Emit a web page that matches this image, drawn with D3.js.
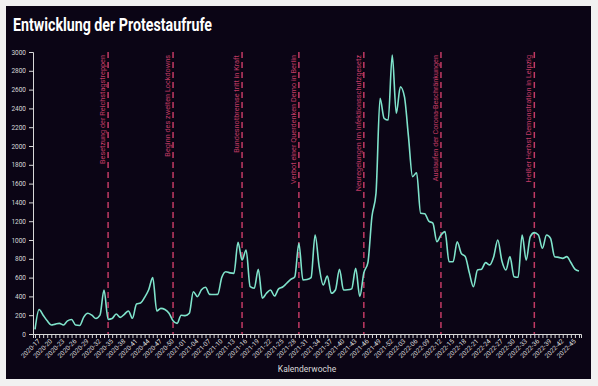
<!DOCTYPE html>
<html>
<head>
<meta charset="utf-8">
<script src="https://cdn.jsdelivr.net/npm/d3@7"></script>
<style>
  html, body { margin: 0; padding: 0; background: #f1f1f1; }
  svg { display: block; }
</style>
</head>
<body>
<div id="chart"></div>
<script>
// Wochen 2020-17 .. 2022-47
var years = [2020, 2021, 2022];
var firstWeek = [17, 1, 1];
var lastWeek = [52, 52, 47];

// Anzahl Protestaufrufe pro Kalenderwoche
var calls = [
  50, 260, 200, 140, 96, 105, 113, 96, 140, 155,
  95, 90, 180, 220, 200, 165, 200, 468, 156, 165,
  213, 177, 210, 245, 167, 319, 330, 390, 470, 600,
  245, 273, 260, 220, 140, 113, 200, 195, 220, 450,
  397, 470, 497, 422, 420, 422, 600, 663, 650, 645,
  975, 787, 894, 503, 486, 688, 380, 433, 468, 404,
  480, 500, 540, 580, 610, 965, 575, 580, 600, 1053,
  716, 521, 617, 433, 468, 688, 468, 470, 480, 699,
  400, 650, 760, 1250, 1497, 2508, 2295, 2277, 2968, 2348,
  2631, 2525, 2100, 1674, 1716, 1284, 1280, 1200, 1180, 982,
  1053, 1089, 769, 769, 982, 858, 823, 650, 503, 681,
  690, 759, 735, 823, 1000, 780, 681, 823, 610, 603,
  1053, 787, 1035, 1078, 1053, 912, 1053, 1017, 823, 815,
  805, 823, 760, 690, 670
];

var eventWeeks = ["2020-35", "2020-51", "2021-16", "2021-30", "2021-46", "2022-13", "2022-36"];
var eventLabels = [
  "Besetzung der Reichstagstreppen",
  "Beginn des zweiten Lockdowns",
  "Bundesnotbremse tritt in Kraft",
  "Verbot einer Querdenken Demo in Berlin",
  "Neuregelungen im Infektionsschutzgesetz",
  "Auslaufen der Corona-Beschränkungen",
  "Heißer Herbst Demonstration in Leipzig"
];

var yTicks = d3.range(0, 3001, 200);

var weeks = [];
years.forEach(function (y, k) {
  for (var w = firstWeek[k]; w <= lastWeek[k]; w++) {
    weeks.push(y + "-" + (w < 10 ? "0" + w : w));
  }
});
var data = weeks.map(function (w, i) { return {week: w, value: calls[i]}; });

var W = 598, H = 386;
var svg = d3.select("#chart").append("svg").attr("width", W).attr("height", H);

svg.append("rect").attr("x", 6).attr("y", 6).attr("width", 585).attr("height", 373)
  .attr("fill", "#0b0515");

svg.append("text").attr("x", 13).attr("y", 31)
  .attr("font-family", "Roboto").attr("font-weight", "bold").attr("font-size", 17.5)
  .attr("fill", "#ffffff").attr("textLength", 199).attr("lengthAdjust", "spacingAndGlyphs")
  .text("Entwicklung der Protestaufrufe");

var x = d3.scalePoint().domain(weeks).range([33, 581]).padding(0.5);
var y = d3.scaleLinear().domain([0, 3000]).range([334, 52]);

var axisColor = "#d8d8d8";

var gy = svg.append("g").attr("transform", "translate(33,0)")
  .call(d3.axisLeft(y).tickValues(yTicks).tickSize(4).tickFormat(d3.format("d")));
gy.selectAll("text").attr("font-family", "Roboto").attr("font-size", 6.5).attr("fill", axisColor);
gy.selectAll("line, path").attr("stroke", axisColor);

var gx = svg.append("g").attr("transform", "translate(0,334)")
  .call(d3.axisBottom(x).tickSize(4).tickFormat(function (d, i) { return i % 3 === 0 ? d : ""; }));
gx.selectAll("line, path").attr("stroke", axisColor);
gx.selectAll("text").attr("font-family", "Roboto").attr("font-size", 6.5).attr("fill", axisColor)
  .attr("text-anchor", "end").attr("dx", "-0.3em").attr("dy", "0.3em")
  .attr("transform", "rotate(-45)");

svg.append("text").attr("x", 307).attr("y", 372).attr("text-anchor", "middle")
  .attr("font-family", "Roboto").attr("font-size", 8.5).attr("fill", axisColor)
  .text("Kalenderwoche");

// Ereignisse
var ev = svg.append("g");
eventWeeks.forEach(function (w, i) {
  ev.append("line").attr("x1", x(w)).attr("x2", x(w)).attr("y1", y(3000)).attr("y2", y(0))
    .attr("stroke", "#c23a64").attr("stroke-width", 1.5).attr("stroke-dasharray", "6,4");
  ev.append("text")
    .attr("transform", "translate(" + (x(w) - 3) + "," + (y(3000) + 3) + ") rotate(-90)")
    .attr("text-anchor", "end").attr("font-family", "Roboto").attr("font-size", 7.3)
    .attr("fill", "#c23a64").text(eventLabels[i]);
});

var line = d3.line()
  .x(function (d) { return x(d.week); })
  .y(function (d) { return y(d.value); })
  .curve(d3.curveMonotoneX);

svg.append("path").datum(data).attr("d", line)
  .attr("fill", "none").attr("stroke", "#7fe3cb").attr("stroke-width", 1.6);
</script>
</body>
</html>
